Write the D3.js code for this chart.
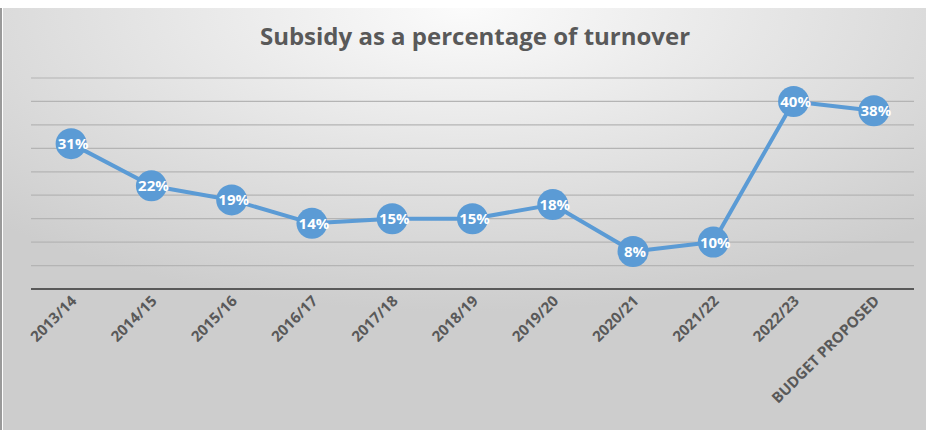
<!DOCTYPE html>
<html>
<head>
<meta charset="utf-8">
<script src="https://cdn.jsdelivr.net/npm/d3@7"></script>
<style>
  html, body { margin: 0; padding: 0; background: #fff; }
  svg { display: block; }
</style>
</head>
<body>
<div id="chart"></div>
<script>
const categories = ['2013/14', '2014/15', '2015/16', '2016/17', '2017/18', '2018/19',
  '2019/20', '2020/21', '2021/22', '2022/23', 'BUDGET PROPOSED'];
const subsidyPct = [31, 22, 19, 14, 15, 15, 18, 8, 10, 40, 38];
const yTicks = [0, 5, 10, 15, 20, 25, 30, 35, 40, 45];
const chartTitle = 'Subsidy as a percentage of turnover';

const W = 926;
const H = 430;
// plot area inside the chart frame
const margin = {top: 78, right: 12, bottom: 141, left: 31};
const width = W - margin.left - margin.right;
const height = H - margin.top - margin.bottom;

const svg = d3.select('#chart')
    .append('svg')
    .attr('width', W)
    .attr('height', H);

// background gradient
const defs = svg.append('defs');
const grad = defs.append('radialGradient')
    .attr('id', 'bg')
    .attr('cx', '50%').attr('cy', '0%')
    .attr('r', '72%')
    .attr('fx', '50%').attr('fy', '0%');
grad.append('stop').attr('offset', '0%').attr('stop-color', '#fbfbfb');
grad.append('stop').attr('offset', '100%').attr('stop-color', '#cdcdcd');

svg.append('rect')
    .attr('x', 3).attr('y', 8)
    .attr('width', W - 3).attr('height', H - 8)
    .attr('fill', 'url(#bg)');
svg.append('rect')
    .attr('x', 0).attr('y', 8)
    .attr('width', 2).attr('height', H - 8)
    .attr('fill', '#9a9a9a');

svg.append('text')
    .attr('x', 475)
    .attr('y', 45)
    .attr('text-anchor', 'middle')
    .attr('font-family', 'Open Sans, sans-serif')
    .attr('font-weight', 'bold')
    .attr('font-size', 24)
    .attr('fill', '#595959')
    .text(chartTitle);

const g = svg.append('g')
    .attr('transform', 'translate(' + margin.left + ',' + margin.top + ')');

const x = d3.scalePoint()
    .domain(categories)
    .range([0, width])
    .padding(0.5);

const y = d3.scaleLinear()
    .domain([0, 45])
    .range([height, 0]);

// gridlines
g.append('g')
    .selectAll('line')
    .data(yTicks.filter((d) => d > 0))
    .join('line')
    .attr('x1', 0)
    .attr('x2', width)
    .attr('y1', (d) => y(d))
    .attr('y2', (d) => y(d))
    .attr('stroke', '#b4b4b4')
    .attr('stroke-width', 1.2);

// x axis
const xAxis = g.append('g')
    .attr('transform', 'translate(0,' + height + ')')
    .call(d3.axisBottom(x).tickSize(0).tickPadding(0));
xAxis.select('.domain')
    .attr('stroke', '#595959')
    .attr('stroke-width', 2.2)
    .attr('d', 'M0,0H' + width);
xAxis.selectAll('text')
    .attr('font-family', 'Open Sans, sans-serif')
    .attr('font-weight', 'bold')
    .attr('font-size', 15)
    .attr('fill', '#595959')
    .attr('text-anchor', 'end')
    .attr('dy', 0)
    .attr('transform', 'translate(6,13) rotate(-45)');

// line
g.append('path')
    .datum(subsidyPct)
    .attr('fill', 'none')
    .attr('stroke', '#5b9bd5')
    .attr('stroke-width', 4)
    .attr('stroke-linejoin', 'round')
    .attr('d', d3.line()
        .x((d, i) => x(categories[i]))
        .y((d) => y(d)));

// markers
g.append('g')
    .selectAll('circle')
    .data(subsidyPct)
    .join('circle')
    .attr('cx', (d, i) => x(categories[i]))
    .attr('cy', (d) => y(d))
    .attr('r', 15.5)
    .attr('fill', '#5b9bd5');

// data labels
g.append('g')
    .selectAll('text')
    .data(subsidyPct)
    .join('text')
    .attr('x', (d, i) => x(categories[i]) + 2)
    .attr('y', (d) => y(d) + 5.5)
    .attr('text-anchor', 'middle')
    .attr('font-family', 'Open Sans, sans-serif')
    .attr('font-weight', 'bold')
    .attr('font-size', 15)
    .attr('fill', '#ffffff')
    .text((d) => d + '%');
</script>
</body>
</html>
